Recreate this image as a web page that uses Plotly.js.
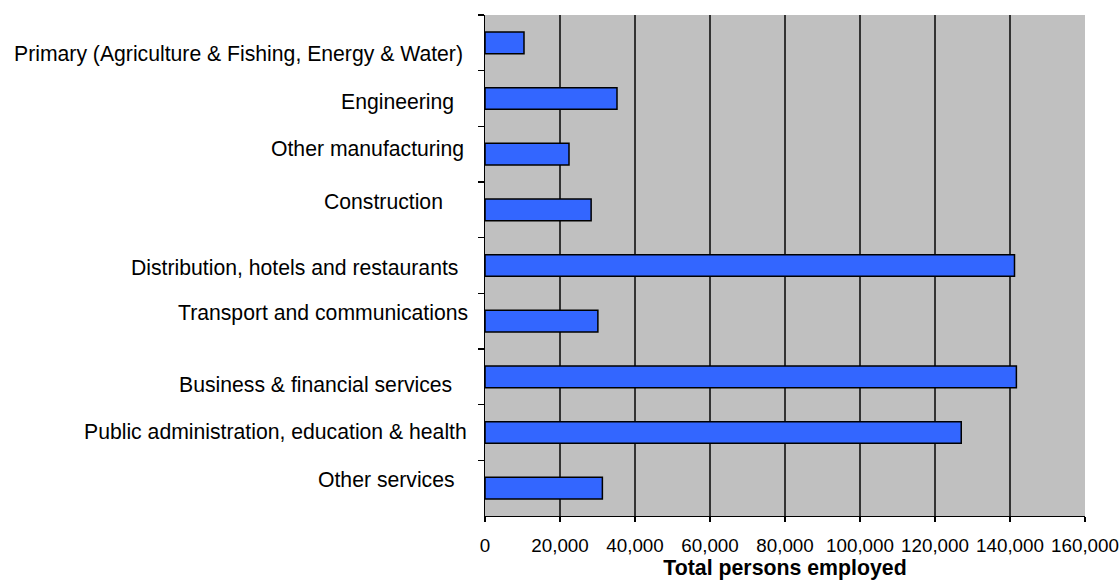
<!DOCTYPE html>
<html>
<head>
<meta charset="utf-8">
<script src="https://cdn.plot.ly/plotly-3.0.1.min.js"></script>
<style>html,body{margin:0;padding:0;background:#fff;}#chart{width:1120px;height:586px;}</style>
</head>
<body>
<div id="chart"></div>
<script>
var categories = [
  "Primary (Agriculture & Fishing, Energy & Water)",
  "Engineering",
  "Other manufacturing",
  "Construction",
  "Distribution, hotels and restaurants",
  "Transport and communications",
  "Business & financial services",
  "Public administration, education & health",
  "Other services"
];
var employed = [10400, 35200, 22400, 28300, 141200, 30100, 141700, 127000, 31300];
var xTickVals = [0, 20000, 40000, 60000, 80000, 100000, 120000, 140000, 160000];
var xTickText = ["0", "20,000", "40,000", "60,000", "80,000", "100,000", "120,000", "140,000", "160,000"];
var xTitle = "Total persons employed";

// label placement tweaks (pixels), matching the original's hand-placed labels
var labelXShift = [-20, -29, -19, -40, -25, -15, -31, -16, -28];
var labelYShift = [-11, -3.6, 5, 8.6, -2, 8, -7.6, 1, 8.6];

var font = "Liberation Sans, Arial, sans-serif";

var annotations = categories.map(function (c, i) {
  return {
    xref: "paper", yref: "y", x: 0, y: c,
    xanchor: "right", yanchor: "middle",
    xshift: labelXShift[i], yshift: labelYShift[i],
    text: c, showarrow: false,
    font: {family: font, size: 21.2, color: "#000"}
  };
});

var trace = {
  type: "bar",
  orientation: "h",
  y: categories,
  x: employed,
  marker: {color: "#3366ff", line: {color: "#000", width: 1.5}},
  hoverinfo: "x+y"
};

var layout = {
  width: 1120, height: 586,
  margin: {l: 485, r: 35, t: 15, b: 70},
  paper_bgcolor: "#fff",
  plot_bgcolor: "#c0c0c0",
  bargap: 0.61,
  showlegend: false,
  font: {family: font, color: "#000"},
  xaxis: {
    range: [0, 160000],
    tickvals: xTickVals, ticktext: xTickText,
    showgrid: true, gridcolor: "#333", gridwidth: 1.2,
    zeroline: false,
    showline: true, linecolor: "#000", linewidth: 1.2,
    ticks: "outside", ticklen: 5, tickcolor: "#000", tickwidth: 1.2,
    tickfont: {family: font, size: 18.8, color: "#000"},
    ticklabelstandoff: 7,
    title: {text: xTitle, font: {family: font, size: 21.3, color: "#000", weight: "bold"}, standoff: 3},
    fixedrange: true
  },
  yaxis: {
    type: "category",
    autorange: "reversed",
    showticklabels: false,
    showgrid: false, zeroline: false,
    showline: true, linecolor: "#000", linewidth: 1.2,
    ticks: "outside", ticklen: 6, tickcolor: "#000", tickwidth: 1.2,
    tickson: "boundaries",
    fixedrange: true
  },
  annotations: annotations
};

Plotly.newPlot("chart", [trace], layout, {displayModeBar: false, staticPlot: true});
</script>
</body>
</html>
